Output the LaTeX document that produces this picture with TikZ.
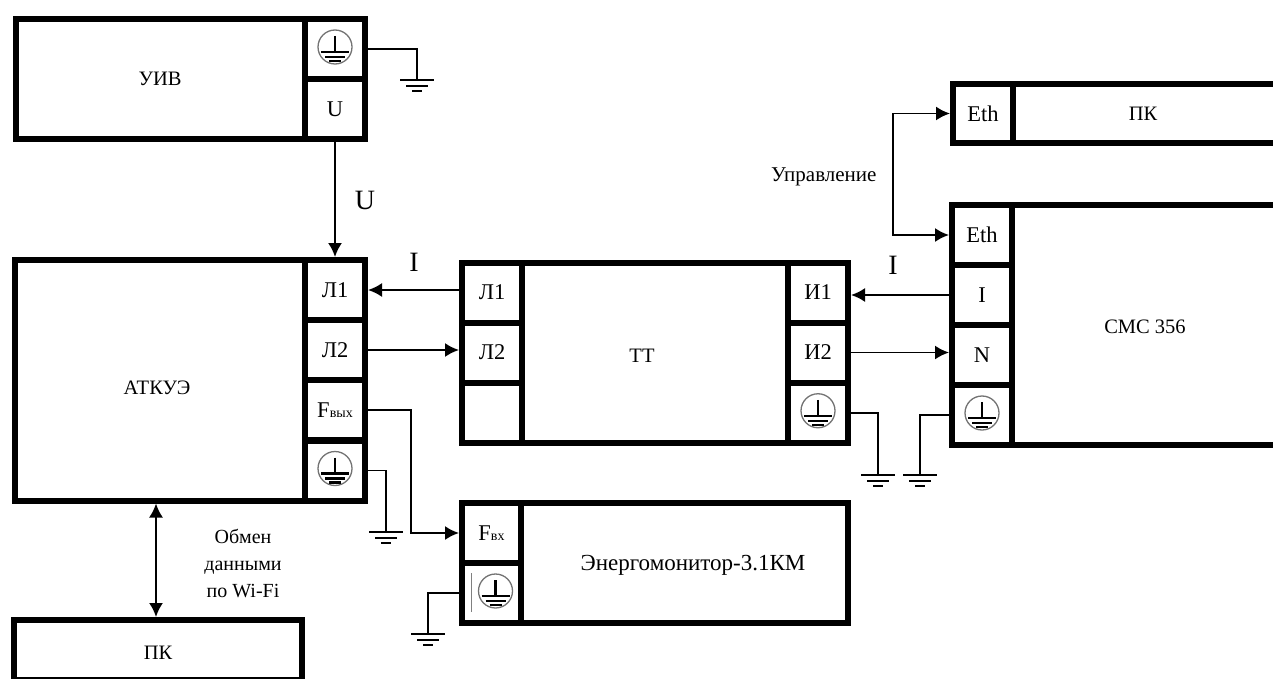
\documentclass[tikz,border=0pt]{standalone}
\usepackage{fontspec}
\setmainfont{Liberation Serif}
\usetikzlibrary{arrows.meta,positioning}

\tikzset{
  block/.style = {draw, line width=6pt, inner sep=0pt},
  cell/.style = {block, minimum width=60, minimum height=60, font=\fontsize{22.5}{24}\selectfont},
  blocktext/.style = {font=\fontsize{20.5}{24}\selectfont},
  wire/.style = {line width=1.9pt},
  tip/.style = {-{Latex[length=14pt,width=14pt]}},
  tips/.style = {{Latex[length=14pt,width=14pt]}-{Latex[length=14pt,width=14pt]}},
  label/.style = {font=\fontsize{20}{27}\selectfont, align=center},
  bigl/.style = {font=\fontsize{28}{30}\selectfont},
  pics/pe/.style = {code={
    \draw [black!55, line width=1.3pt] (0,-2) circle (17);
    \draw [line width=2.2pt] (0,-13) -- (0,3);
    \draw [line width=2.4pt] (-14,3) -- (14,3);
    \draw [line width=2.4pt] (-10,8) -- (10,8);
    \draw [line width=2.4pt] (-6,12) -- (6,12);
  }},
  pics/gnd/.style = {code={
    \draw [line width=1.9pt] (-17,0) -- (17,0);
    \draw [line width=1.9pt] (-11,6) -- (11,6);
    \draw [line width=1.9pt] (-5,11) -- (5,11);
  }}
}
\newcommand{\lowtxt}[1]{{\fontsize{14}{14}\selectfont #1}}

\begin{document}
\begin{tikzpicture}[x=1pt, y=-1pt]
    \path [use as bounding box, clip] (0,0) rectangle (1273,679);

    % UIV
    \node (uiv) [block, minimum width=289, minimum height=120] at (160.5,79) {};
    \node (uivtxt) [blocktext] at (160,79) {УИВ};
    \node (uivpe) [cell] at (335,49) {};
    \node (uivu) [cell] at (335,109) {U};

    % ATKUE
    \node (atkue) [block, minimum width=290, minimum height=240.5] at (160,380.25) {};
    \node (atkuetxt) [blocktext] at (157,388) {АТКУЭ};
    \node (atl1) [cell] at (335,290) {Л1};
    \node (atl2) [cell] at (335,350) {Л2};
    \node (atf) [cell] at (335,410) {F\lowtxt{вых}};
    \node (atpe) [cell] at (335,470.5) {};

    % TT
    \node (tt) [block, minimum width=266, minimum height=180.5] at (655,352.75) {};
    \node (tttxt) [blocktext] at (642,356) {ТТ};
    \node (ttl1) [cell] at (492,292.5) {Л1};
    \node (ttl2) [cell] at (492,352.5) {Л2};
    \node (ttem) [cell, minimum height=60.5] at (492,412.75) {};
    \node (tti1) [cell] at (818,292.5) {И1};
    \node (tti2) [cell] at (818,352.5) {И2};
    \node (ttpe) [cell, minimum height=60.5] at (818,412.75) {};

    % CMC
    \node (cmc) [block, minimum width=266, minimum height=240] at (1145,325) {};
    \node (cmctxt) [blocktext] at (1145,327) {СМС 356};
    \node (cmceth) [cell] at (982,235) {Eth};
    \node (cmci) [cell] at (982,295) {I};
    \node (cmcn) [cell] at (982,355) {N};
    \node (cmcpe) [cell] at (982,415) {};

    % PC right
    \node (pcr) [block, minimum width=266, minimum height=59] at (1146,113.5) {};
    \node (pcrtxt) [blocktext] at (1143,114) {ПК};
    \node (pceth) [cell, minimum height=59] at (983,113.5) {Eth};

    % energomonitor
    \node (en) [block, minimum width=327, minimum height=120] at (684.5,563) {};
    \node (entxt) [blocktext, font=\fontsize{23}{24}\selectfont] at (693,565) {Энергомонитор-3.1КМ};
    \node (enf) [cell, minimum width=59] at (491.5,533) {F\lowtxt{вх}};
    \node (enpe) [cell, minimum width=59] at (491.5,593) {};

    % PC bottom
    \node (pcb) [block, minimum width=288, minimum height=60] at (158,650) {};
    \node (pcbtxt) [blocktext] at (158,653) {ПК};

    \pic at (uivpe) {pe};
    \pic at (atpe) {pe};
    \pic at (ttpe) {pe};
    \pic at (cmcpe) {pe};
    \pic at ([xshift=4pt]enpe) {pe};
    \draw [gray, line width=.6pt] (471,573) -- (471,612);

    \coordinate (guiv) at (417,80);
    \coordinate (gat) at (386,532);
    \coordinate (gtt) at (878,475);
    \coordinate (gcmc) at (920,475);
    \coordinate (gen) at (428,634);
    \coordinate (fmid) at (411,470);
    \coordinate (ctl) at (893,174);

    \draw [wire] (uivpe.east) -| (guiv);
    \draw [wire] (atpe.east) -| (gat);
    \draw [wire] (ttpe.east) -| (gtt);
    \draw [wire] (cmcpe.west) -| (gcmc);
    \draw [wire] (enpe.west) -| (gen);
    \foreach \g in {guiv,gat,gtt,gcmc,gen}
      \pic at (\g) {gnd};

    \draw [wire, tip] (uivu.south) -- (atl1.north);
    \draw [wire, tip] (atl1.east -| ttl1.west) -- (atl1.east);
    \draw [wire, tip] (atl2.east) -- (atl2.east -| ttl2.west);
    \draw [wire, tip] (cmci.west) -- (cmci.west -| tti1.east);
    \draw [wire, tip] (tti2.east) -- (tti2.east -| cmcn.west);
    \draw [wire, tip] (atf.east) -| (fmid) |- (enf.west);
    \draw [wire, tips] (pceth.west) -| (ctl) |- (cmceth.west);
    \draw [wire, tips] ([xshift=-4pt]atkue.south) -- ([xshift=-4pt]atkue.south |- pcb.north);

    \node (ulab) [bigl] at (365,200) {U};
    \node (ilab1) [bigl] at (414,262) {I};
    \node (ilab2) [bigl] at (893,265) {I};
    \node (ctllab) [label, left=13pt of ctl, yshift=-3pt, font=\fontsize{21}{24}\selectfont] {Управление};
    \node (wifilab) [label] at (243,563) {Обмен\\данными\\по Wi-Fi};
\end{tikzpicture}
\end{document}
